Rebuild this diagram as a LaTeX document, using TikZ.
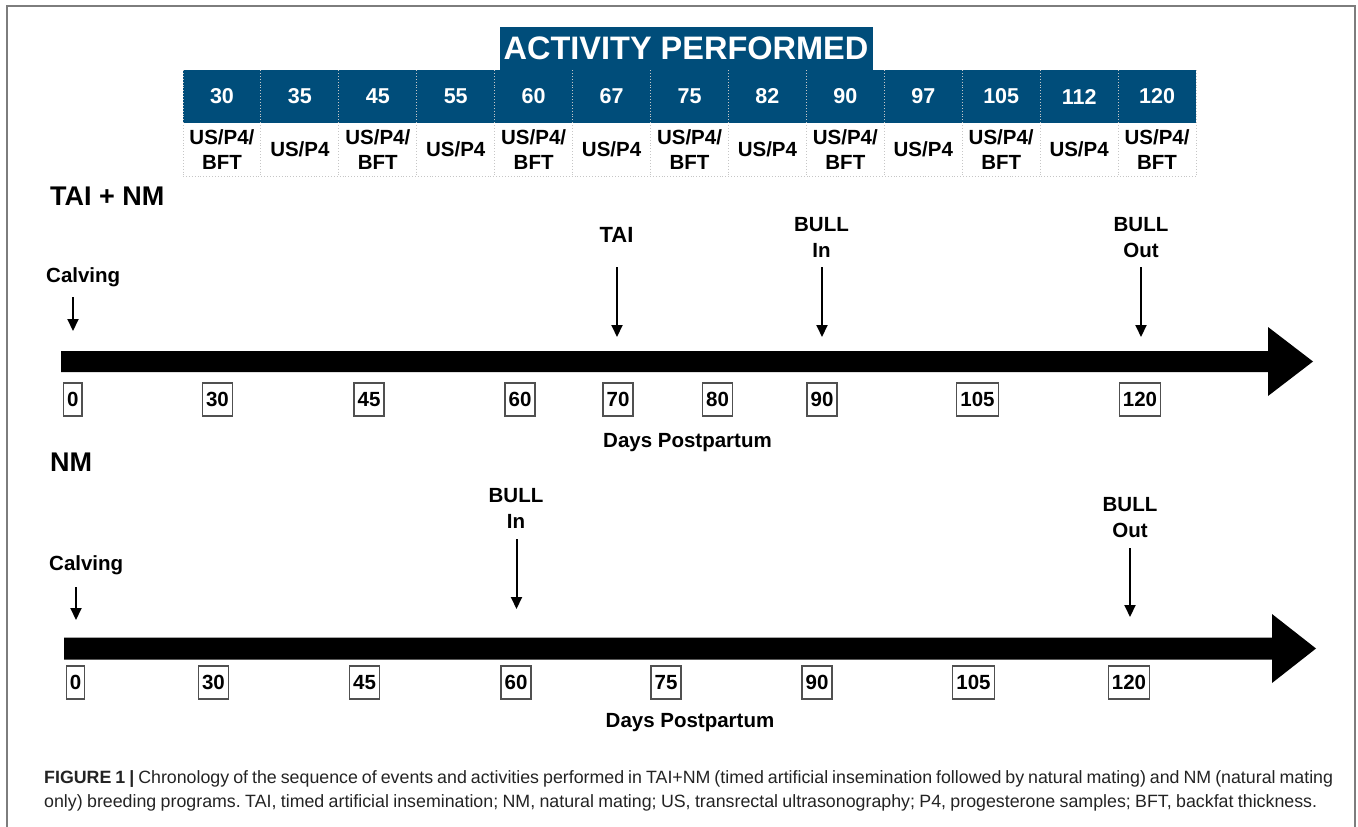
\documentclass[tikz,border=0pt]{standalone}
\usepackage{fontspec}
\setmainfont{Liberation Sans}
\usetikzlibrary{arrows.meta}
\definecolor{hdrblue}{RGB}{0,77,122}
\definecolor{framegray}{RGB}{125,125,125}
\definecolor{captxt}{RGB}{35,35,35}
\definecolor{boxgray}{RGB}{80,80,80}
\frenchspacing
\begin{document}
\begin{tikzpicture}[x=1pt,y=-1pt,
  txt/.style={inner sep=0pt, align=center},
  title/.style={txt, font=\fontsize{27}{30}\selectfont\bfseries},
  evlbl/.style={txt, font=\fontsize{20.5}{26}\selectfont\bfseries},
  hnum/.style={txt, text=white, font=\fontsize{21.5}{24}\selectfont\bfseries},
  act/.style={txt, font=\fontsize{20.5}{25}\selectfont\bfseries},
  daybox/.style={draw=boxgray, line width=1.2pt, inner xsep=3.6pt, inner ysep=0pt,
                 minimum height=33pt, font=\fontsize{20.5}{24}\selectfont\bfseries},
  sep/.style={gray!45, dotted, line width=0.9pt},
  evarr/.style={line width=2pt, -{Triangle[width=11pt,length=12pt]}},
  bigarrow/.style={fill=black}
]
\useasboundingbox (0,0) rectangle (1358,827);
% frame
\draw[framegray, line width=1.5pt] (7,830) -- (7,6) -- (1355,6) -- (1355,830);

% ---------- header table ----------
\fill[hdrblue] (500,27) rectangle (873,70);
\fill[hdrblue] (183,70) rectangle (1196,123);
\node[txt, text=white, font=\fontsize{32.5}{36}\selectfont\bfseries] (acttitle) at (686,48) {ACTIVITY PERFORMED};
\foreach \k in {0,...,13} \draw[sep] ({183+77.923*\k},70) -- ({183+77.923*\k},176);
\draw[sep] (183,176) -- (1196,176);
\foreach \d [count=\i from 0] in {30,35,45,55,60,67,75,82,90,97,105,112,120} {
  \node[hnum] (h\i) at ({183+77.923*(\i+0.5)},96.5) {\d};
  \ifodd\i
    \node[act] (a\i) at ({183+77.923*(\i+0.5)},149.5) {US/P4};
  \else
    \node[act] (a\i) at ({183+77.923*(\i+0.5)},149.5) {US/P4/\\BFT};
  \fi
}

% ---------- TAI + NM ----------
\node[title, anchor=north west] (t1) at (50,187) {TAI + NM};
\fill[bigarrow] (61,351) -- (1268,351) -- (1268,327) -- (1313,361.5) -- (1268,396) -- (1268,372) -- (61,372) -- cycle;
\node[evlbl, anchor=north west] (calv1) at (46,267) {Calving};
\node[txt, font=\fontsize{22}{26}\selectfont\bfseries, anchor=north] (tai1) at (616.5,227) {TAI};
\node[evlbl, anchor=north] (bin1) at (821.5,217) {BULL\\In};
\node[evlbl, anchor=north] (bout1) at (1141,217) {BULL\\Out};
\coordinate (calv1s) at (73,297);  \coordinate (calv1e) at (73,331);
\coordinate (tai1s) at (617,267);  \coordinate (tai1e) at (617,337);
\coordinate (bin1s) at (822,267);  \coordinate (bin1e) at (822,337);
\coordinate (bout1s) at (1141,267); \coordinate (bout1e) at (1141,337);
\draw[evarr] (calv1s) -- (calv1e);
\draw[evarr] (tai1s) -- (tai1e);
\draw[evarr] (bin1s) -- (bin1e);
\draw[evarr] (bout1s) -- (bout1e);
\foreach \v/\x in {0/72.75,30/217.5,45/369,60/520,70/618,80/717.5,90/822,105/977.5,120/1140}
  \node[daybox] (d1-\v) at (\x,399.5) {\v};
\node[txt, font=\fontsize{20.5}{24}\selectfont\bfseries, anchor=north] (dp1) at (687.5,433) {Days Postpartum};

% ---------- NM ----------
\node[title, anchor=north west] (t2) at (50,453) {NM};
\fill[bigarrow] (64,637.5) -- (1272,637.5) -- (1272,614) -- (1316,648.5) -- (1272,683) -- (1272,659.5) -- (64,659.5) -- cycle;
\node[evlbl, anchor=north west] (calv2) at (49,555) {Calving};
\node[evlbl, anchor=north] (bin2) at (516,488) {BULL\\In};
\node[evlbl, anchor=north] (bout2) at (1130,497) {BULL\\Out};
\coordinate (calv2s) at (76,587);  \coordinate (calv2e) at (76,620);
\coordinate (bin2s) at (516.5,539); \coordinate (bin2e) at (516.5,609);
\coordinate (bout2s) at (1130,548); \coordinate (bout2e) at (1130,617);
\draw[evarr] (calv2s) -- (calv2e);
\draw[evarr] (bin2s) -- (bin2e);
\draw[evarr] (bout2s) -- (bout2e);
\foreach \v/\x in {0/75.5,30/213.5,45/364.5,60/516,75/666,90/817,105/973.5,120/1129}
  \node[daybox] (d2-\v) at (\x,682.5) {\v};
\node[txt, font=\fontsize{20.5}{24}\selectfont\bfseries, anchor=north] (dp2) at (690,713) {Days Postpartum};

% ---------- caption ----------
\node[inner sep=0pt, anchor=base west, text=captxt, font=\fontsize{17.8}{24}\selectfont] (cap1) at (44,783)
  {\makebox[1289pt][s]{\textbf{FIGURE 1 |} Chronology of the sequence of events and activities performed in TAI+NM (timed artificial insemination followed by natural mating) and NM (natural mating}};
\node[inner sep=0pt, anchor=base west, text=captxt, font=\fontsize{17.8}{24}\selectfont] (cap2) at (44,807)
  {\makebox[1273pt][s]{only) breeding programs. TAI, timed artificial insemination; NM, natural mating; US, transrectal ultrasonography; P4, progesterone samples; BFT, backfat thickness.}};
\end{tikzpicture}
\end{document}
